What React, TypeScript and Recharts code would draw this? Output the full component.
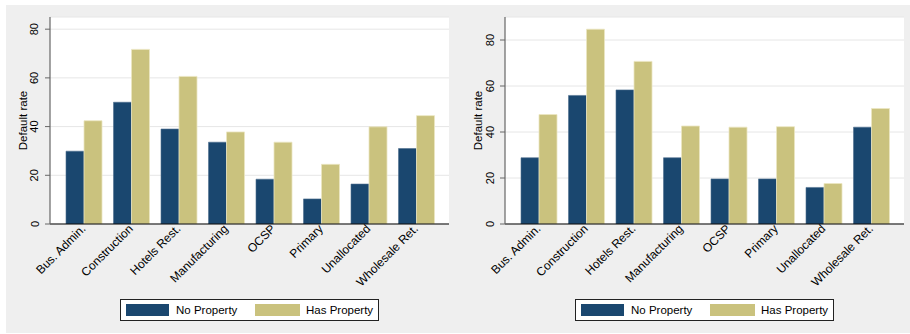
import React from 'react';
import { BarChart, Bar, XAxis, YAxis, CartesianGrid, Legend } from 'recharts';

const categories = ['Bus. Admin.', 'Construction', 'Hotels Rest.', 'Manufacturing', 'OCSP', 'Primary', 'Unallocated', 'Wholesale Ret.'];
const leftNoProperty = [29.9, 50.0, 39.0, 33.6, 18.4, 10.3, 16.4, 31.0];
const leftHasProperty = [42.4, 71.7, 60.6, 37.8, 33.6, 24.5, 39.9, 44.5];
const rightNoProperty = [28.8, 55.9, 58.3, 28.8, 19.6, 19.6, 15.9, 42.1];
const rightHasProperty = [47.6, 84.7, 70.7, 42.6, 42.1, 42.3, 17.6, 50.2];
const yTicks = [0, 20, 40, 60, 80];
const seriesNames = ['No Property', 'Has Property'];
const yLabel = 'Default rate';

const NAVY = '#1a476f';
const KHAKI = '#cac27e';
const FONT = '"Liberation Sans", Arial, Helvetica, sans-serif';

const buildData = (a: number[], b: number[]) =>
  categories.map((c, i) => ({ name: c, noProp: a[i], hasProp: b[i] }));

const XTick = (props: any) => {
  const { x, y, payload } = props;
  const tx = x + 2.5;
  const ty = y + 5.5;
  return (
    <text x={tx} y={ty} transform={`rotate(-45, ${tx}, ${ty})`} textAnchor="end" fontSize={12} fontFamily={FONT} fill="#000">
      {payload.value}
    </text>
  );
};

const YTick = (props: any) => {
  const { x, y, payload } = props;
  const tx = x - 10.5;
  return (
    <text x={tx} y={y} transform={`rotate(-90, ${tx}, ${y})`} textAnchor="middle" dominantBaseline="central" fontSize={11} fontFamily={FONT} fill="#000">
      {payload.value}
    </text>
  );
};

const YLabelContent = (props: any) => {
  const vb = props.viewBox || { x: 0, y: 12, width: 44, height: 207 };
  const cx = vb.x + vb.width - 27;
  const cy = vb.y + vb.height / 2;
  return (
    <text x={cx} y={cy} transform={`rotate(-90, ${cx}, ${cy})`} textAnchor="middle" dominantBaseline="central" fontSize={11.5} fontFamily={FONT} fill="#000">
      {yLabel}
    </text>
  );
};

const LegendContent = (props: any) => {
  const raw = props.payload || [];
  const payload = seriesNames
    .map((n) => raw.find((p: any) => p.value === n))
    .filter(Boolean);
  const swatchLeft = [5, 134];
  const textLeft = [55, 185];
  const swatchW = [43, 45];
  return (
    <div style={{ position: 'relative', width: 259, height: 22, boxSizing: 'border-box', border: '1px solid #222', background: '#fff', fontFamily: FONT, fontSize: 11.5, color: '#000' }}>
      {payload.map((p: any, i: number) => (
        <React.Fragment key={i}>
          <div style={{ position: 'absolute', left: swatchLeft[i], top: 4, width: swatchW[i], height: 12, background: p.color }} />
          <div style={{ position: 'absolute', left: textLeft[i], top: 0, height: 20, lineHeight: '20px', whiteSpace: 'nowrap' }}>{p.value}</div>
        </React.Fragment>
      ))}
    </div>
  );
};

const Panel = ({ data, yMax }: { data: any[]; yMax: number }) => (
  <BarChart width={449} height={328} data={data} margin={{ top: 12, right: 6, left: 0, bottom: 0 }} barGap={0} barSize={18}>
    <CartesianGrid vertical={false} stroke="#e6e6e6" fill="#ffffff" />
    <XAxis
      dataKey="name"
      height={109}
      padding={{ left: 10, right: 9 }}
      interval={0}
      tickLine={false}
      tickSize={0}
      tickMargin={0}
      tick={<XTick />}
      axisLine={{ stroke: '#000', strokeWidth: 1.2 }}
    />
    <YAxis
      width={44}
      domain={[0, yMax]}
      ticks={yTicks}
      allowDataOverflow
      tickSize={5}
      tickMargin={0}
      tickLine={{ stroke: '#666' }}
      axisLine={{ stroke: '#666', strokeWidth: 1.2 }}
      tick={<YTick />}
      label={{ content: <YLabelContent /> } as any}
    />
    <Legend
      layout="horizontal"
      verticalAlign="middle"
      align="center"
      itemSorter={null as any}
      content={<LegendContent />}
      wrapperStyle={{ position: 'absolute', left: 114, top: 294, width: 259, height: 22 }}
    />
    <Bar dataKey="noProp" name={seriesNames[0]} fill={NAVY} stroke="#4f6f8f" strokeWidth={0.6} isAnimationActive={false} />
    <Bar dataKey="hasProp" name={seriesNames[1]} fill={KHAKI} stroke="#ebe6c2" strokeWidth={0.8} isAnimationActive={false} />
  </BarChart>
);

export default function App() {
  const leftData = buildData(leftNoProperty, leftHasProperty);
  const rightData = buildData(rightNoProperty, rightHasProperty);
  return (
    <div style={{ position: 'absolute', left: 6, top: 5, width: 904, height: 328, background: '#efefef', overflow: 'hidden' }}>
      <div style={{ position: 'absolute', left: 0, top: 0 }}>
        <Panel data={leftData} yMax={85} />
      </div>
      <div style={{ position: 'absolute', left: 455, top: 0 }}>
        <Panel data={rightData} yMax={90} />
      </div>
    </div>
  );
}
